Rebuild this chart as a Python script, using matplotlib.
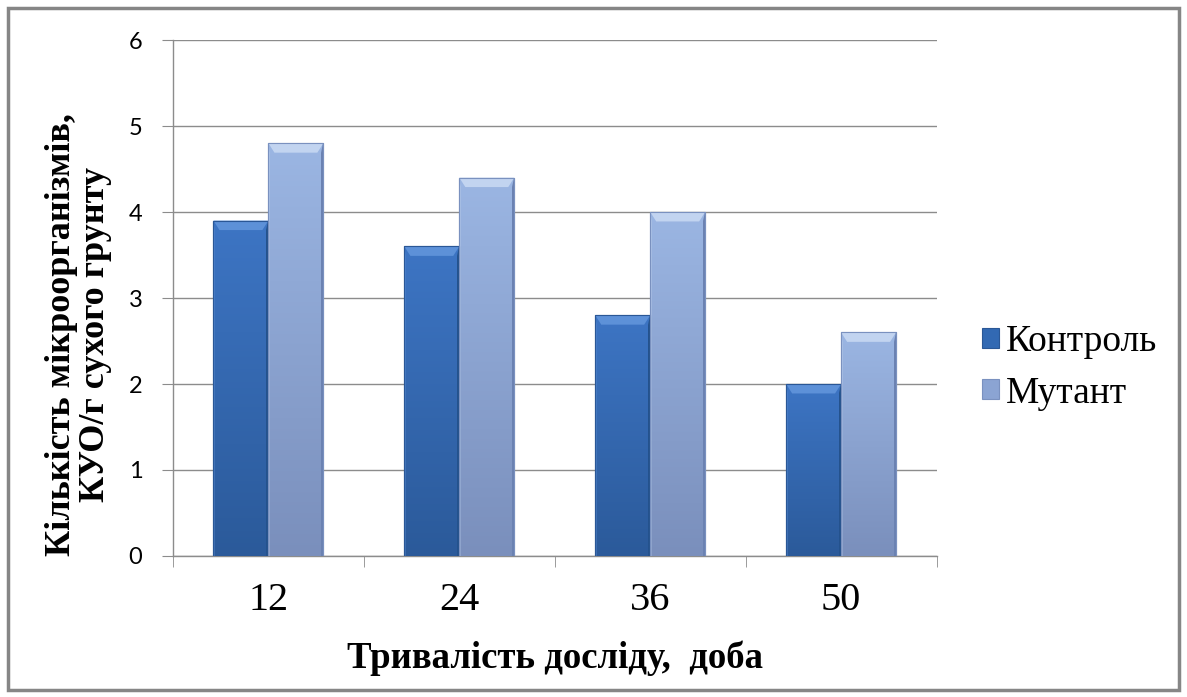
import numpy as np
import matplotlib
matplotlib.use("Agg")
import matplotlib.pyplot as plt
from matplotlib.patches import Polygon, Rectangle
from matplotlib.colors import LinearSegmentedColormap
from matplotlib.font_manager import FontProperties

plt.rcParams["font.family"] = ["Liberation Serif", "DejaVu Serif"]

days = ["12", "24", "36", "50"]
control = [3.9, 3.6, 2.8, 2.0]
mutant = [4.8, 4.4, 4.0, 2.6]
series_names = ["Контроль", "Мутант"]

colors = ["#3269b3", "#8ba4d3"]
grad_top = ["#3d75c4", "#9bb6e3"]
grad_bot = ["#2b5a9a", "#7a8fbc"]
tops = ["#5d91d8", "#c2d4f0"]
sides = ["#24528d", "#6b82b2"]
edges = ["#2a5796", "#7a91bf"]

fig = plt.figure(figsize=(11.87, 6.97), dpi=100)
ax = fig.add_axes([0.1457, 0.2023, 0.6433, 0.7403])

x = np.arange(len(days))
width = 0.288
ramp = np.linspace(0, 1, 256).reshape(-1, 1)


def bevel_bars(xs, vals, idx):
    bars = ax.bar(xs, vals, width, color=colors[idx], edgecolor=edges[idx], lw=0.8,
                  zorder=3, label=series_names[idx])
    cmap = LinearSegmentedColormap.from_list("g%d" % idx, [grad_bot[idx], grad_top[idx]])
    for b in bars:
        x0, w, h = b.get_x(), b.get_width(), b.get_height()
        # vertical shading inside the bar
        im = ax.imshow(ramp, extent=[x0, x0 + w, 0, h], origin="lower", aspect="auto",
                       cmap=cmap, zorder=3.5, interpolation="bilinear")
        im.set_clip_path(b)
        # bevel: light top strip and darker side edges
        d = w * 0.11
        dy = 0.11
        ax.add_patch(Polygon([[x0, h], [x0 + w, h], [x0 + w - d, h - dy], [x0 + d, h - dy]],
                             closed=True, color=tops[idx], lw=0, zorder=4))
        ax.add_patch(Polygon([[x0 + w, h], [x0 + w, 0], [x0 + w - d * 0.35, 0],
                              [x0 + w - d * 0.35, h - dy]],
                             closed=True, color=sides[idx], lw=0, zorder=4))
        ax.add_patch(Polygon([[x0, h], [x0, 0], [x0 + d * 0.3, 0], [x0 + d * 0.3, h - dy]],
                             closed=True, color=tops[idx], alpha=0.4, lw=0, zorder=4))
        ax.add_patch(Rectangle((x0, 0), w, h, fill=False, edgecolor=edges[idx], lw=0.8,
                               zorder=4.5))
    return bars


bevel_bars(x - width / 2, control, 0)
bevel_bars(x + width / 2, mutant, 1)

ax.set_xlim(-0.5, len(days) - 0.5)
ax.set_ylim(0, 6)
ax.set_yticks(range(7))
ax.yaxis.grid(True, color="#8c8c8c", lw=1, zorder=0)
ax.set_axisbelow(True)

for s in ["top", "right"]:
    ax.spines[s].set_visible(False)
for s in ["left", "bottom"]:
    ax.spines[s].set_color("#8c8c8c")
    ax.spines[s].set_linewidth(1)

ax.set_xticks(x)
ax.set_xticklabels(days, fontsize=29)
ax.tick_params(axis="x", length=0, pad=19)
ax.set_xticks(np.arange(-0.5, len(days)), minor=True)
ax.tick_params(axis="x", which="minor", length=8, color="#8c8c8c", direction="out")
ax.tick_params(axis="y", length=8, color="#8c8c8c", labelsize=17, pad=14)
for lbl in ax.get_yticklabels():
    lbl.set_family("Lato")

ax.set_xlabel("Тривалість досліду,  доба", fontsize=26.5, fontweight="bold", labelpad=15)
ax.set_ylabel("Кількість мікроорганізмів,\nКУО/г сухого грунту", fontsize=26,
              fontweight="bold", labelpad=12, linespacing=1.05)
ax.yaxis.label.set_y(0.43)

leg = ax.legend(loc="center left", bbox_to_anchor=(1.015, 0.365), frameon=False,
                prop=FontProperties(family="Liberation Serif", size=27),
                handlelength=0.45, handleheight=0.45, handletextpad=0.2,
                labelspacing=0.45)

# chart frame
fig.add_artist(Rectangle((0.007, 0.01), 0.986, 0.978, transform=fig.transFigure,
                         fill=False, edgecolor="#868686", lw=2.5))

fig.savefig("out.png", dpi=100)
